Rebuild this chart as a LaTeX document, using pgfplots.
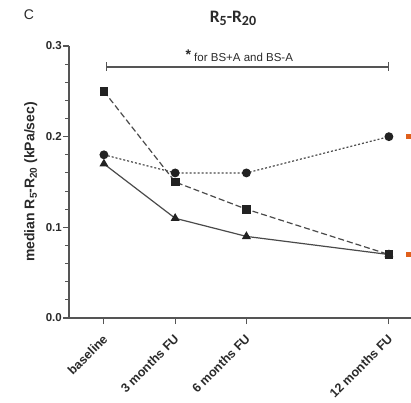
\documentclass[border=0pt]{standalone}
\usepackage{pgfplots}
\pgfplotsset{compat=1.18}
\usepackage{fontspec}
\setmainfont{Liberation Sans}
\setsansfont{Liberation Sans}
\newfontfamily\titlefont{Carlito}
\definecolor{axgray}{HTML}{555555}
\definecolor{lngray}{HTML}{4A4A4A}
\definecolor{mk}{HTML}{222222}
\definecolor{txt}{HTML}{2A2A2A}
\definecolor{orng}{HTML}{E0601C}

\begin{document}
\begin{tikzpicture}
\begin{axis}[
    name=ax,
    scale only axis,
    width=342pt, height=272pt,
    xmin=-1.47, xmax=12.93,
    ymin=0, ymax=0.3,
    axis x line*=bottom, axis y line*=left,
    axis line style={axgray, line width=1.2pt, -},
    xtick={0,3,6,12},
    xticklabels={baseline,3 months FU,6 months FU,12 months FU},
    x tick label style={xshift=-2pt, yshift=-8pt, rotate=45, anchor=north east, font=\bfseries\fontsize{12.5}{14}\selectfont, text=txt, inner sep=1pt},
    ytick={0,0.1,0.2,0.3},
    minor ytick={0.02,0.04,0.06,0.08,0.12,0.14,0.16,0.18,0.22,0.24,0.26,0.28},
    yticklabels={0.0,0.1,0.2,0.3},
    y tick label style={font=\bfseries\fontsize{11.5}{13}\selectfont, text=txt, inner sep=1pt},
    tick align=outside,
    major tick length=6pt, minor tick length=4pt,
    tick style={axgray, line width=1.1pt},
    ylabel={median R\raisebox{-2.5pt}{\fontsize{10}{12}\selectfont 5}-R\raisebox{-2.5pt}{\fontsize{10}{12}\selectfont 20} (kPa/sec)},
    ylabel style={font=\bfseries\fontsize{14}{16}\selectfont, text=txt, yshift=4pt},
    clip=false,
]
\coordinate (ll) at (rel axis cs:0,0);
\coordinate (ur) at (rel axis cs:1,1);
% squares, dashed
\addplot[lngray, line width=1.2pt, dash pattern=on 6pt off 3pt, mark=square*, mark size=3.8pt, mark options={solid, fill=mk, draw=mk}]
  coordinates {(0,0.25) (3,0.15) (6,0.12) (12,0.07)};
% circles, dotted
\addplot[lngray, line width=1.2pt, dash pattern=on 2pt off 2pt, mark=*, mark size=3.8pt, mark options={solid, fill=mk, draw=mk}]
  coordinates {(0,0.18) (3,0.16) (6,0.16) (12,0.20)};
% triangles, solid
\addplot[lngray, line width=1.2pt, mark=triangle*, mark size=4pt, mark options={solid, fill=mk, draw=mk}]
  coordinates {(0,0.17) (3,0.11) (6,0.09) (12,0.07)};
% partial markers at the right edge
\addplot[only marks, mark=square*, mark size=2pt, orng]
  coordinates {(12.83,0.20) (12.83,0.07)};
% bracket
\addplot[axgray, line width=1.3pt, {|-|}] coordinates {(0.08,0.277) (12,0.277)};
\node[font=\fontsize{11.5}{13}\selectfont, text=txt, anchor=base] at (axis cs:5.7,0.283) {\raisebox{2pt}{\fontsize{14}{14}\selectfont\textbf{*}} for BS+A and BS-A};
\end{axis}
\node[font=\titlefont\bfseries\fontsize{17.5}{19}\selectfont, text=txt] at ([shift={(164pt,28pt)}]ur -| ll) {R\raisebox{-3pt}{\fontsize{14}{15}\selectfont 5}-R\raisebox{-3pt}{\fontsize{14}{15}\selectfont 20}};
\node[font=\fontsize{14}{16}\selectfont, text=txt] at ([shift={(-40pt,31pt)}]ur -| ll) {C};
\pgfresetboundingbox
\path ([shift={(-69pt,-84pt)}]ll) rectangle ([shift={(0pt,46pt)}]ur);
\end{tikzpicture}
\end{document}
